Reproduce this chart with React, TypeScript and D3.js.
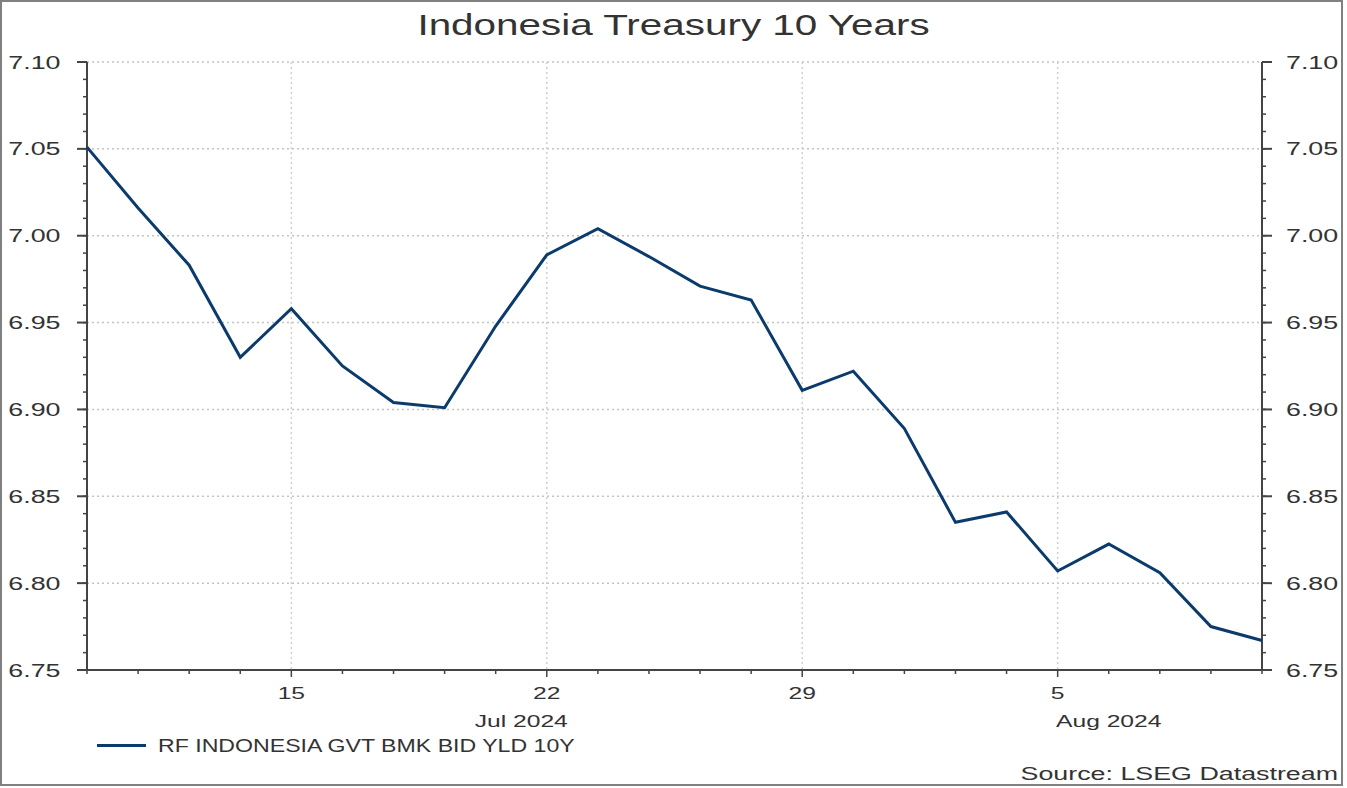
import React from 'react';
import * as d3 from 'd3';

// business days, Datastream series
const dates = [
  '2024-07-09', '2024-07-10', '2024-07-11', '2024-07-12',
  '2024-07-15', '2024-07-16', '2024-07-17', '2024-07-18', '2024-07-19',
  '2024-07-22', '2024-07-23', '2024-07-24', '2024-07-25', '2024-07-26',
  '2024-07-29', '2024-07-30', '2024-07-31', '2024-08-01', '2024-08-02',
  '2024-08-05', '2024-08-06', '2024-08-07', '2024-08-08', '2024-08-09',
];
const yields = [
  7.051, 7.016, 6.983, 6.930,
  6.958, 6.925, 6.904, 6.901, 6.948,
  6.989, 7.004, 6.988, 6.971, 6.963,
  6.911, 6.922, 6.889, 6.835, 6.841,
  6.807, 6.8225, 6.806, 6.775, 6.767,
];
const weekTicks = ['2024-07-15', '2024-07-22', '2024-07-29', '2024-08-05'];
const months = [
  { key: '2024-07', label: 'Jul 2024' },
  { key: '2024-08', label: 'Aug 2024' },
];
const yDomain = [6.75, 7.1];
const seriesName = 'RF INDONESIA GVT BMK BID YLD 10Y';
const title = 'Indonesia Treasury 10 Years';
const source = 'Source: LSEG Datastream';

const W = 1347;
const H = 788;
const margin = { left: 87, right: 85, top: 62, bottom: 118 };
const FONT = '"Liberation Sans", Arial, sans-serif';
const TXT = '#333';
const SX = 1.45; // source picture is stretched horizontally

const Stretch: React.FC<{ x: number; y: number; sx?: number; size: number; anchor?: string; children: React.ReactNode }> = ({ x, y, sx = SX, size, anchor = 'start', children }) => (
  <text
    transform={`translate(${x},${y}) scale(${sx},1)`}
    fontFamily={FONT}
    fontSize={size}
    fill={TXT}
    textAnchor={anchor}
  >
    {children}
  </text>
);

const App: React.FC = () => {
  const x = d3.scalePoint<string>()
    .domain(dates)
    .range([margin.left, W - margin.right]);
  const y = d3.scaleLinear()
    .domain(yDomain)
    .range([H - margin.bottom, margin.top]);

  const x0 = margin.left;
  const x1 = W - margin.right;
  const y0 = H - margin.bottom;
  const y1 = margin.top;

  const major = y.ticks(7);
  const minor = y.ticks(35);

  const line = d3.line<number>()
    .x((_, i) => x(dates[i])!)
    .y(d => y(d));

  const monthSpans = months.map(m => {
    const idx = dates.map((d, i) => (d.startsWith(m.key) ? i : -1)).filter(i => i >= 0);
    const first = idx[0];
    const last = Math.min(idx[idx.length - 1] + 1, dates.length - 1);
    return { label: m.label, cx: (x(dates[first])! + x(dates[last])!) / 2 };
  });

  return (
    <svg width={W} height={H} style={{ position: 'absolute', left: 0, top: 0, background: '#fff' }}>
      <rect x={1} y={1} width={W - 6} height={H - 4} fill="#fff" stroke="#808080" strokeWidth={2} />

      <Stretch x={W / 2} y={35} sx={1.37} size={29.5} anchor="middle">{title}</Stretch>

      {/* grid */}
      {major.map(t => (
        <line key={`gy${t}`} x1={x0} x2={x1} y1={y(t)} y2={y(t)}
          stroke="#c4c4c4" strokeWidth={1.5} strokeDasharray="2,3" />
      ))}
      {weekTicks.map(d => (
        <line key={`gx${d}`} x1={x(d)} x2={x(d)} y1={y1} y2={y0}
          stroke="#d0d0d0" strokeWidth={1.5} strokeDasharray="2,3" />
      ))}

      {/* left axis */}
      <line x1={x0} x2={x0} y1={y1} y2={y0} stroke="#444" strokeWidth={2} />
      {minor.map(t => (
        <line key={`lm${t}`} x1={x0 - 4} x2={x0} y1={y(t)} y2={y(t)} stroke="#444" strokeWidth={1.5} />
      ))}
      {major.map(t => (
        <g key={`l${t}`}>
          <line x1={x0 - 10} x2={x0} y1={y(t)} y2={y(t)} stroke="#444" strokeWidth={2} />
          <Stretch x={60.5} y={y(t) + 6.5} size={18.5} anchor="end">{d3.format('.2f')(t)}</Stretch>
        </g>
      ))}

      {/* right axis */}
      <line x1={x1} x2={x1} y1={y1} y2={y0} stroke="#444" strokeWidth={2} />
      {minor.map(t => (
        <line key={`rm${t}`} x1={x1} x2={x1 + 4} y1={y(t)} y2={y(t)} stroke="#444" strokeWidth={1.5} />
      ))}
      {major.map(t => (
        <g key={`r${t}`}>
          <line x1={x1} x2={x1 + 10} y1={y(t)} y2={y(t)} stroke="#444" strokeWidth={2} />
          <Stretch x={1286} y={y(t) + 6.5} size={18.5}>{d3.format('.2f')(t)}</Stretch>
        </g>
      ))}

      {/* bottom axis */}
      <line x1={x0 - 10} x2={x1} y1={y0} y2={y0} stroke="#444" strokeWidth={2} />
      {dates.map(d => (
        <line key={`bt${d}`} x1={x(d)} x2={x(d)} y1={y0} y2={y0 + (weekTicks.includes(d) ? 7 : 4)}
          stroke="#444" strokeWidth={1.5} />
      ))}
      {weekTicks.map(d => (
        <Stretch key={`bl${d}`} x={x(d)!} y={699} size={17} anchor="middle">
          {String(+d.slice(8))}
        </Stretch>
      ))}
      {monthSpans.map(m => (
        <Stretch key={m.label} x={m.cx} y={727} size={17} anchor="middle">{m.label}</Stretch>
      ))}

      {/* series */}
      <path d={line(yields)!} fill="none" stroke="#0b3b6d" strokeWidth={3} strokeLinejoin="miter" />

      {/* legend */}
      <line x1={97} x2={146} y1={745.5} y2={745.5} stroke="#0b3b6d" strokeWidth={3} />
      <Stretch x={158} y={752} sx={1.25} size={18.5}>{seriesName}</Stretch>

      <Stretch x={1338} y={780} size={18.5} anchor="end">{source}</Stretch>
    </svg>
  );
};

export default App;
